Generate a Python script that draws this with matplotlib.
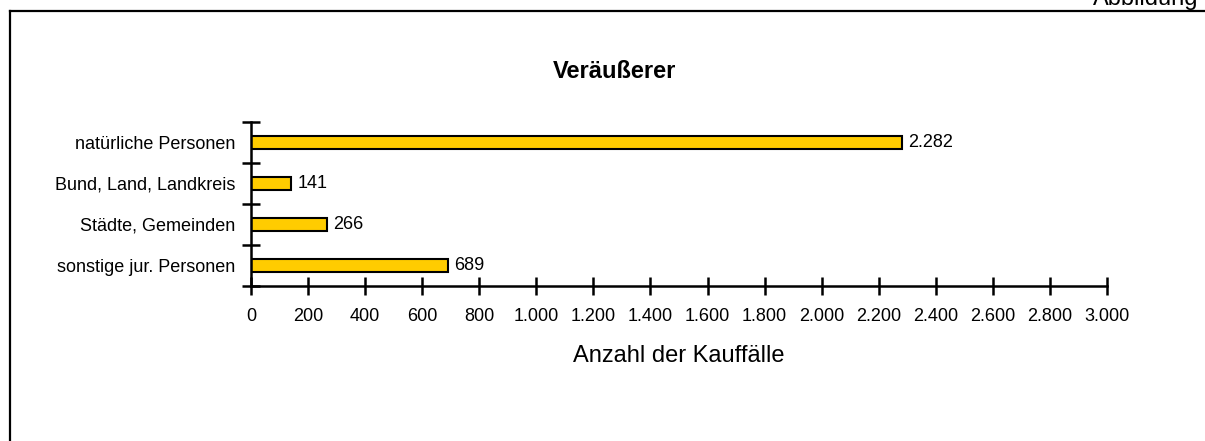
import matplotlib.pyplot as plt
from matplotlib.lines import Line2D

plt.rcParams['font.family'] = ['Liberation Sans', 'DejaVu Sans']

# Daten
kategorien = ['natürliche Personen', 'Bund, Land, Landkreis',
              'Städte, Gemeinden', 'sonstige jur. Personen']
werte = [2282, 141, 266, 689]
x_ticks = list(range(0, 3001, 200))


def de_format(v):
    return f"{v:,}".replace(',', '.')


fig = plt.figure(figsize=(12.05, 4.41), dpi=100)
ax = fig.add_axes([0.2083, 0.3515, 0.7104, 0.3719])

pos = list(range(len(kategorien)))[::-1]
ax.barh(pos, werte, height=0.34, color='#FFCC00', edgecolor='black', linewidth=1.5)
for p, v in zip(pos, werte):
    ax.text(v + 22, p, de_format(v), va='center', ha='left', fontsize=13)

ax.set_xlim(0, 3000)
ax.set_ylim(-0.5, len(kategorien) - 0.5)

ax.set_yticks(pos)
ax.set_yticklabels(kategorien, fontsize=13)
ax.tick_params(axis='y', which='major', length=0, pad=11)
ax.set_yticks([i - 0.5 for i in range(len(kategorien) + 1)], minor=True)
ax.tick_params(axis='y', which='minor', direction='inout', length=13, width=1.8)

ax.set_xticks(x_ticks)
ax.set_xticklabels([de_format(t) for t in x_ticks], fontsize=13)
ax.tick_params(axis='x', direction='inout', length=13, width=1.8, pad=9)
ax.set_xlabel('Anzahl der Kauffälle', fontsize=17, labelpad=15)

for s in ['top', 'right']:
    ax.spines[s].set_visible(False)
for s in ['left', 'bottom']:
    ax.spines[s].set_linewidth(1.8)

fig.text(615 / 1205, 1 - 72 / 441, 'Veräußerer', ha='center', va='center',
         fontsize=17, fontweight='bold')

# Rahmen links und oben
fig.add_artist(Line2D([10 / 1205, 10 / 1205], [0, 1 - 11 / 441],
                      transform=fig.transFigure, color='black', linewidth=1.6))
fig.add_artist(Line2D([10 / 1205, 1], [1 - 11 / 441, 1 - 11 / 441],
                      transform=fig.transFigure, color='black', linewidth=1.6))
fig.text(1198 / 1205, 1 - 5 / 441, 'Abbildung', ha='right', va='baseline', fontsize=17)

fig.savefig('out.png', dpi=100)
